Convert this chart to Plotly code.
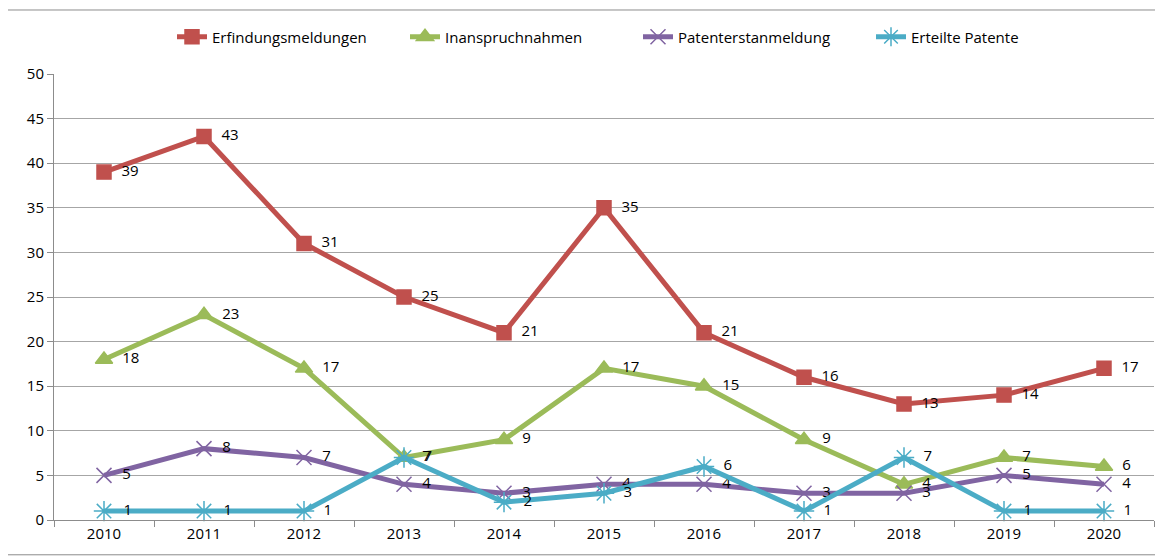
import plotly.graph_objects as go

years = ["2010", "2011", "2012", "2013", "2014", "2015", "2016", "2017", "2018", "2019", "2020"]
erfindungsmeldungen = [39, 43, 31, 25, 21, 35, 21, 16, 13, 14, 17]
inanspruchnahmen = [18, 23, 17, 7, 9, 17, 15, 9, 4, 7, 6]
patenterstanmeldung = [5, 8, 7, 4, 3, 4, 4, 3, 3, 5, 4]
erteilte_patente = [1, 1, 1, 7, 2, 3, 6, 1, 7, 1, 1]

series = [
    ("Erfindungsmeldungen", erfindungsmeldungen, "#C0504D", "square", 14),
    ("Inanspruchnahmen", inanspruchnahmen, "#9BBB59", "triangle-up", 15),
    ("Patenterstanmeldung", patenterstanmeldung, "#8064A2", "x-thin-open", 15),
    ("Erteilte Patente", erteilte_patente, "#4BACC6", "asterisk-open", 17),
]

FONT = "Open Sans"
W, H = 1155, 549
fig = go.Figure()
for name, vals, color, sym, size in series:
    fig.add_trace(go.Scatter(
        x=years, y=vals, name=name, mode="lines+markers+text",
        line=dict(color=color, width=5),
        marker=dict(symbol=sym, size=size, color=color,
                    line=dict(color=color, width=1.5)),
        text=["  " + str(v) for v in vals],
        textposition="middle right",
        textfont=dict(family=FONT, size=15, color="#000000"),
        cliponaxis=False,
    ))

fig.add_shape(type="rect", xref="paper", yref="paper",
              x0=-0.0427, x1=1.0055, y0=-0.078, y1=1.1435,
              line=dict(color="#8c8c8c", width=1), layer="below")

fig.update_layout(
    width=W, height=H,
    margin=dict(l=46, r=9, t=66, b=37, autoexpand=False),
    paper_bgcolor="white", plot_bgcolor="white",
    font=dict(family=FONT, size=15, color="#000000"),
    showlegend=True,
    legend=dict(orientation="h", x=(172 - 8) / W, xanchor="left", xref="container",
                y=1 - 29 / H, yanchor="middle", yref="container",
                entrywidth=188, entrywidthmode="pixels",
                font=dict(family=FONT, size=15), traceorder="normal",
                bgcolor="rgba(0,0,0,0)"),
    xaxis=dict(type="category", range=[-0.5, 10.5], showgrid=False,
               showline=True, linecolor="#8c8c8c", linewidth=1,
               ticks="outside", tickson="boundaries", ticklen=6, tickcolor="#8c8c8c",
               tickfont=dict(family=FONT, size=15), automargin=False),
    yaxis=dict(range=[0, 50], dtick=5, showgrid=True, gridcolor="#a6a6a6", gridwidth=1,
               showline=True, linecolor="#8c8c8c", linewidth=1,
               ticks="outside", ticklen=6, tickcolor="#8c8c8c", zeroline=False,
               tickfont=dict(family=FONT, size=15), automargin=False),
)

fig.write_html("out.html")
